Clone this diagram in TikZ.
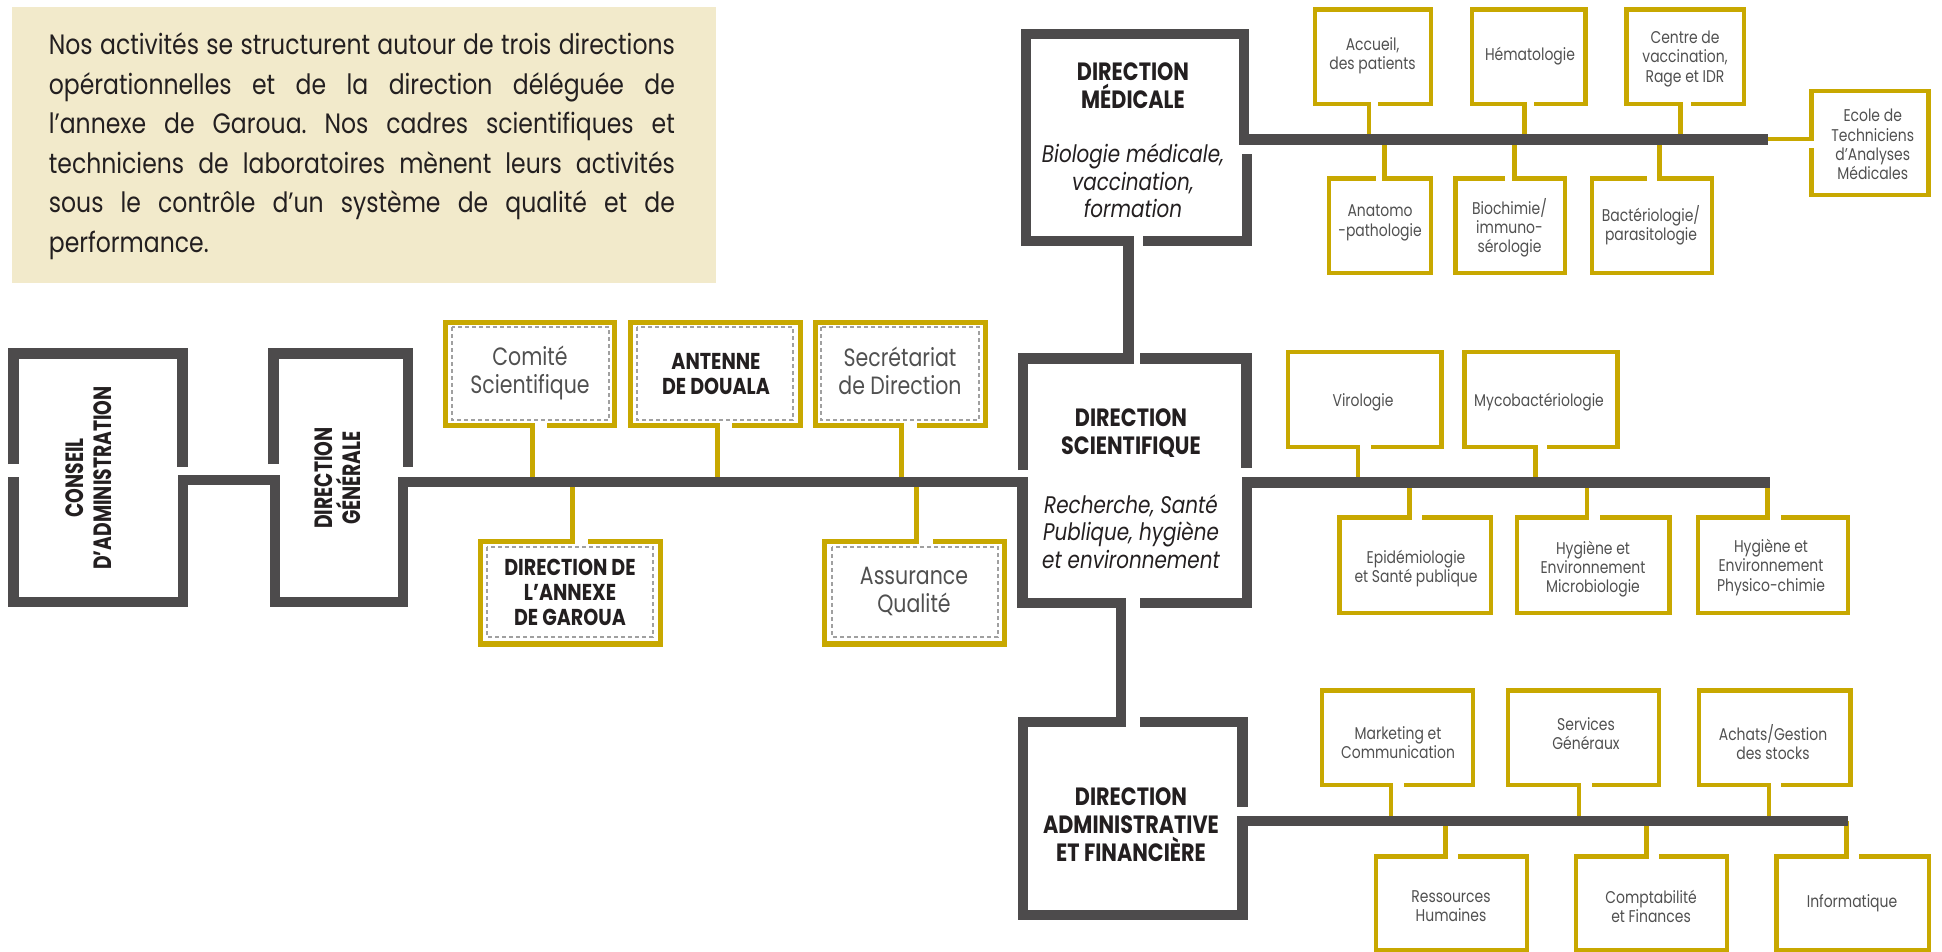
\documentclass[tikz,border=0pt]{standalone}
\usepackage{fontspec}
\setmainfont{Poppins}
\newfontfamily\condf[FakeStretch=0.82]{Poppins}
\newfontfamily\headf[FakeStretch=0.83]{Poppins}
\newfontfamily\headn[FakeStretch=0.75]{Poppins}
\newfontfamily\parf[FakeStretch=0.84]{Poppins}
\frenchspacing
\definecolor{dg}{RGB}{77,75,76}
\definecolor{goldc}{RGB}{200,168,0}
\definecolor{beige}{RGB}{242,234,203}
\definecolor{ink}{RGB}{35,31,32}
\definecolor{lbl}{RGB}{80,80,80}
\definecolor{dashc}{RGB}{160,160,160}
% #1 style, #2 left, #3 top, #4 right, #5 bottom, #6 connector x, #7 gap end x, #8 line y
\newcommand\gupbox[8]{\draw[#1] (#6,#8) -- (#6,#5) -- (#2,#5) -- (#2,#3) -- (#4,#3) -- (#4,#5) -- (#7,#5);}
\newcommand\gdnboxa[8]{\draw[#1] (#6,#8) -- (#6,#3) -- (#2,#3) -- (#2,#5) -- (#4,#5) -- (#4,#3) -- (#7,#3);}
\newcommand\gdnboxb[8]{\draw[#1] (#6,#8) -- (#6,#3) -- (#4,#3) -- (#4,#5) -- (#2,#5) -- (#2,#3) -- (#7,#3);}
\newcommand\jline[1]{\makebox[313pt][s]{\spaceskip=0.12em plus 20em minus 0.05em\relax #1}}
\tikzset{
  frame/.style={draw=dg, line width=5.25pt, line join=miter},
  gbox/.style={draw=goldc, line width=2.6pt, line join=miter},
  sbox/.style={draw=goldc, line width=2.2pt, line join=miter},
  dashbox/.style={draw=dashc, line width=0.6pt, dash pattern=on 2pt off 1.5pt},
  head/.style={font={\headf\bfseries\fontsize{12.5pt}{14pt}\selectfont}, text=ink, align=center, inner sep=0pt},
  rhead/.style={font={\headn\bfseries\fontsize{12.5pt}{14pt}\selectfont}, text=ink, align=center, inner sep=0pt, rotate=90},
  sub/.style={font={\headf\itshape\fontsize{12pt}{13.75pt}\selectfont}, text=ink, align=center, inner sep=0pt},
  cbold/.style={font={\headf\bfseries\fontsize{11.5pt}{12.5pt}\selectfont}, text=ink, align=center, inner sep=0pt},
  creg/.style={font={\condf\fontsize{12.5pt}{14pt}\selectfont}, text=lbl, align=center, inner sep=0pt},
  small/.style={font={\condf\fontsize{8.5pt}{9.6pt}\selectfont}, text=lbl, align=center, inner sep=0pt},
  partext/.style={font={\parf\fontsize{14pt}{19.75pt}\selectfont}, text=ink, inner sep=0pt, anchor=base west}
}
\begin{document}
\begin{tikzpicture}[x=0.5pt,y=-0.5pt]
\useasboundingbox (0,0) rectangle (1942,952);
% intro box
\fill[beige] (12,7) rectangle (716,283);
\node[partext] (p1) at (48.5,55) {\jline{Nos activités se structurent autour de trois directions}};
\node[partext] (p2) at (48.5,94.5) {\jline{opérationnelles et de la direction déléguée de}};
\node[partext] (p3) at (48.5,134) {\jline{l’annexe de Garoua. Nos cadres scientifiques et}};
\node[partext] (p4) at (48.5,173.5) {\jline{techniciens de laboratoires mènent leurs activités}};
\node[partext] (p5) at (48.5,213) {\jline{sous le contrôle d’un système de qualité et de}};
\node[partext] (p6) at (48.5,252.5) {performance.};

% ---------- gold boxes: central row
\gupbox{gbox}{445.5}{322.75}{614.75}{425.25}{532.25}{546.7}{482}
\gupbox{gbox}{630.75}{322.75}{800.25}{425.25}{717.5}{732}{482}
\gupbox{gbox}{815.75}{322.75}{985.25}{425.25}{901.75}{917}{482}
\gdnboxa{gbox}{480.5}{541.5}{660.5}{644}{572.5}{588}{482}
\gdnboxa{gbox}{824.5}{541.5}{1004.5}{644}{916.5}{933}{482}
\draw[dashbox] (452,327) rectangle (609,420);
\draw[dashbox] (637,327) rectangle (793,420);
\draw[dashbox] (821,327) rectangle (979,420);
\draw[dashbox] (487,547) rectangle (653,637);
\draw[dashbox] (832,547) rectangle (998,637);

% ---------- gold boxes: medical row
\gupbox{sbox}{1314.7}{9.5}{1431}{104}{1369}{1378.3}{139.5}
\gupbox{sbox}{1472}{9.5}{1585.5}{104}{1524.3}{1534.3}{139.5}
\gupbox{sbox}{1626.3}{9.5}{1743.7}{104}{1680.5}{1690.7}{139.5}
\gdnboxb{sbox}{1328.7}{178.7}{1431}{272.8}{1384.5}{1375.7}{139.5}
\gdnboxb{sbox}{1455.3}{178.7}{1564.7}{272.8}{1514.5}{1505}{139.5}
\gdnboxb{sbox}{1592}{178.7}{1712.2}{272.8}{1659.5}{1646.7}{139.5}
\draw[sbox] (1760,139) -- (1811.5,139) -- (1811.5,91) -- (1928.3,91) -- (1928.3,195) -- (1811.5,195) -- (1811.5,148);

% ---------- gold boxes: scientific row
\gupbox{sbox}{1288}{351.7}{1441.5}{447}{1358.2}{1371}{482}
\gupbox{sbox}{1464.5}{351.7}{1617.5}{447}{1535.5}{1547.3}{482}
\gdnboxa{sbox}{1339.5}{517.5}{1491}{613}{1409.5}{1422}{482}
\gdnboxa{sbox}{1517}{517.5}{1669.5}{613}{1587}{1600}{482}
\gdnboxa{sbox}{1698}{517.5}{1848}{613}{1767.5}{1781}{482}

% ---------- gold boxes: administrative row
\gupbox{sbox}{1322}{690.3}{1473}{785}{1391}{1404}{821}
\gupbox{sbox}{1508}{690.3}{1659}{785}{1579}{1592}{821}
\gupbox{sbox}{1699}{690.3}{1850.3}{785}{1768.7}{1781}{821}
\gdnboxa{sbox}{1376}{856.3}{1527}{950}{1445.5}{1458}{821}
\gdnboxa{sbox}{1576}{856.3}{1727.2}{950}{1646.5}{1659}{821}
\gdnboxa{sbox}{1776.3}{856.3}{1928.8}{950}{1846.5}{1859.3}{821}

% ---------- dark frames
\draw[frame] (13.5,464) -- (13.5,353.5) -- (182.5,353.5) -- (182.5,467);
\draw[frame] (273.5,464) -- (273.5,353.5) -- (408,353.5) -- (408,467);
\draw[frame] (13.5,477) -- (13.5,602) -- (183,602) -- (183,480) -- (275,480) -- (275,602)
  -- (403,602) -- (403,482) -- (1022.5,482) -- (1022.5,603) -- (1121,603) -- (1121,722)
  -- (1023,722) -- (1023,915) -- (1242.5,915) -- (1242.5,821) -- (1848.3,821);
\draw[frame] (1023,470) -- (1023,358.7) -- (1128.3,358.7) -- (1128.3,241) -- (1025.8,241)
  -- (1025.8,34) -- (1244,34) -- (1244,139.5) -- (1768.3,139.5);
\draw[frame] (1140,358.7) -- (1246.5,358.7) -- (1246.5,468);
\draw[frame] (1140,603) -- (1247,603) -- (1247,482.5) -- (1770,482.5);
\draw[frame] (1143.3,241) -- (1247,241) -- (1247,154);
\draw[frame] (1140,722) -- (1242.5,722) -- (1242.5,806.7);

% ---------- dark texts
\node[rhead] (ca) at (89,478) {CONSEIL\\D’ADMINISTRATION};
\node[rhead] (dgn) at (338,478) {DIRECTION\\GÉNÉRALE};
\node[head] (dm) at (1133,85.5) {DIRECTION\\MÉDICALE};
\node[sub] (dmsub) at (1133,181) {Biologie médicale,\\vaccination,\\formation};
\node[head] (ds) at (1131,433) {DIRECTION\\SCIENTIFIQUE};
\node[sub] (dssub) at (1131,531.5) {Recherche, Santé\\Publique, hygiène\\et environnement};
\node[head] (daf) at (1131,825) {DIRECTION\\ADMINISTRATIVE\\ET FINANCIÈRE};

% ---------- central texts
\node[creg] (com) at (530,372.5) {Comité\\Scientifique};
\node[cbold] (ant) at (716,374) {ANTENNE\\DE DOUALA};
\node[creg] (sec) at (900,371) {Secrétariat\\de Direction};
\node[cbold] (ann) at (570,592) {DIRECTION DE\\L’ANNEXE\\DE GAROUA};
\node[creg] (aq) at (914,591) {Assurance\\Qualité};

% ---------- small texts
\node[small] (acc) at (1372.5,55.5) {Accueil,\\des patients};
\node[small] (hem) at (1530,56) {Hématologie};
\node[small] (cvac) at (1685,59) {Centre de\\vaccination,\\Rage et IDR};
\node[small] (ana) at (1380,223) {Anatomo\\-pathologie};
\node[small] (bio) at (1509.5,227.5) {Biochimie/\\immuno-\\sérologie};
\node[small] (bac) at (1651,225.5) {Bactériologie/\\parasitologie};
\node[small] (eco) at (1872.7,144.5) {Ecole de\\Techniciens\\d’Analyses\\Médicales};
\node[small] (vir) at (1363,402) {Virologie};
\node[small] (myc) at (1539,402) {Mycobactériologie};
\node[small] (epi) at (1416,568.5) {Epidémiologie\\et Santé publique};
\node[small] (hym) at (1593,569) {Hygiène et\\Environnement\\Microbiologie};
\node[small] (hyp) at (1771,567.5) {Hygiène et\\Environnement\\Physico-chimie};
\node[small] (mkt) at (1398,743) {Marketing et\\Communication};
\node[small] (sg) at (1586,733.5) {Services\\Généraux};
\node[small] (ach) at (1773,742) {Achats/Gestion\\des stocks};
\node[small] (rh) at (1451,906.5) {Ressources\\Humaines};
\node[small] (cf) at (1651,906.5) {Comptabilité\\et Finances};
\node[small] (inf) at (1852,903) {Informatique};
\end{tikzpicture}
\end{document}
